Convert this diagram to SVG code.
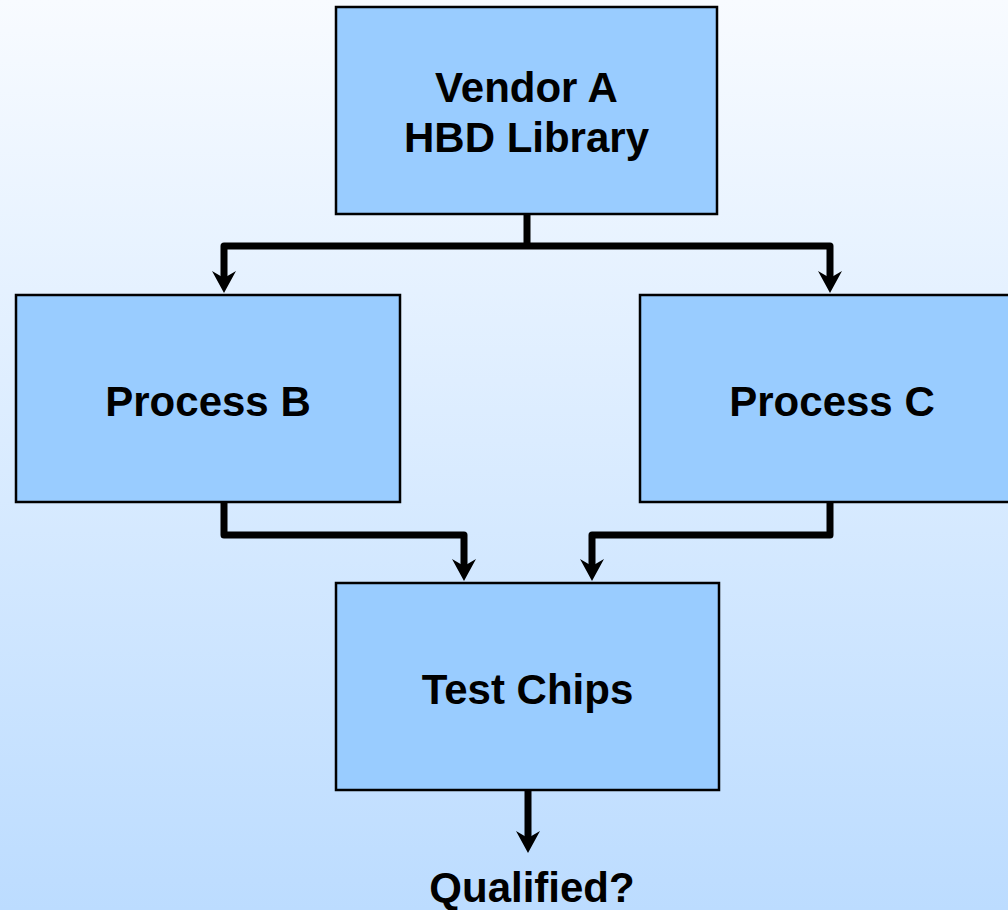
<svg xmlns="http://www.w3.org/2000/svg" width="1008" height="910" viewBox="0 0 1008 910">
<defs>
<linearGradient id="bg" x1="0" y1="0" x2="0" y2="1">
<stop offset="0" stop-color="#f8fbff"/>
<stop offset="1" stop-color="#bcdcff"/>
</linearGradient>
<marker id="arr" markerUnits="userSpaceOnUse" markerWidth="24" markerHeight="26" viewBox="0 -13 24 26" refX="8" refY="0" orient="auto">
<path d="M0,-12 L7,0 L0,12 L22,0 Z" fill="#000"/>
</marker>
<style>
.box{fill:#99ccff;stroke:#000;stroke-width:2.5}
.lbl{font-family:"Liberation Sans",Arial,sans-serif;font-weight:bold;font-size:42px;fill:#000;text-anchor:middle}
.wire{fill:none;stroke:#000;stroke-width:7;stroke-linejoin:round}
</style>
</defs>
<rect width="1008" height="910" fill="url(#bg)"/>
<g id="connectors">
<path class="wire" d="M527,214 V246"/>
<path class="wire" d="M527,246 H224 V279" marker-end="url(#arr)"/>
<path class="wire" d="M527,246 H830 V279" marker-end="url(#arr)"/>
<path class="wire" d="M224,502 V535 H464 V567" marker-end="url(#arr)"/>
<path class="wire" d="M830,502 V535 H592 V567" marker-end="url(#arr)"/>
<path class="wire" d="M528,790 V839" marker-end="url(#arr)"/>
</g>
<g id="vendor">
<rect class="box" x="336" y="7" width="381" height="207"/>
<text class="lbl" x="526.5" y="102">Vendor A</text>
<text class="lbl" x="526.5" y="152">HBD Library</text>
</g>
<g id="processB">
<rect class="box" x="16" y="295" width="384" height="207"/>
<text class="lbl" x="208" y="416">Process B</text>
</g>
<g id="processC">
<rect class="box" x="640" y="295" width="384" height="207"/>
<text class="lbl" x="832" y="416">Process C</text>
</g>
<g id="testchips">
<rect class="box" x="336" y="583" width="383" height="207"/>
<text class="lbl" x="527.5" y="704">Test Chips</text>
</g>
<g id="qualified">
<text class="lbl" x="532" y="902">Qualified?</text>
</g>
</svg>
